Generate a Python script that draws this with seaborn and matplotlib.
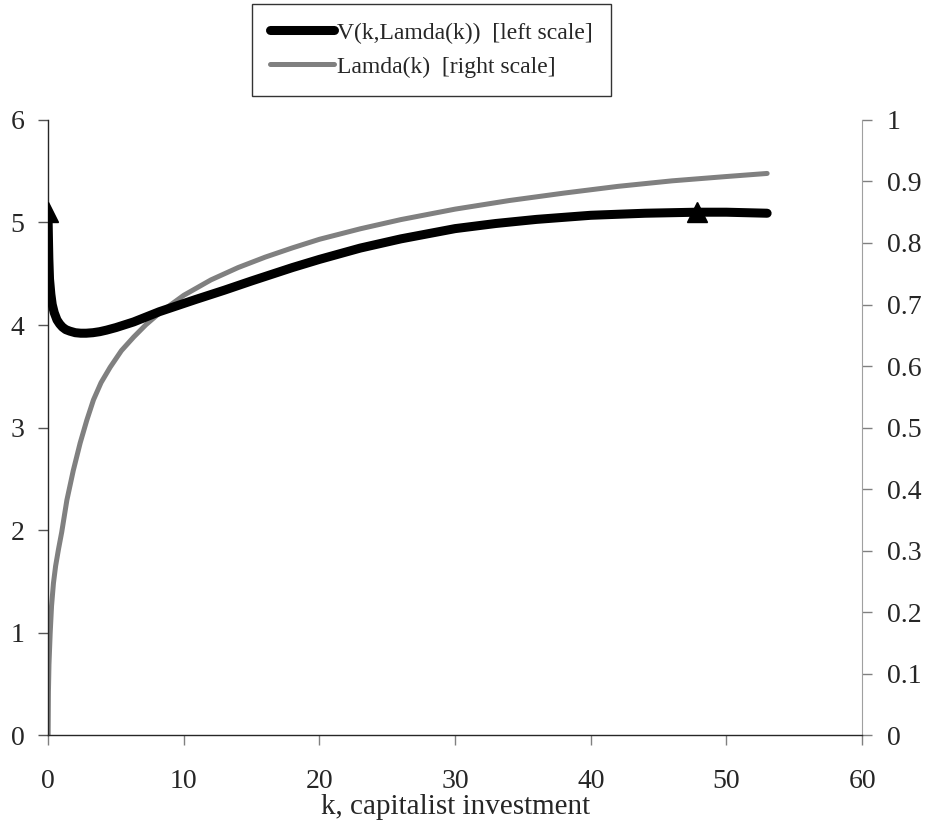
import seaborn as sns
import pandas as pd
import matplotlib.pyplot as plt
from matplotlib.lines import Line2D

# values
k_v = [0, 0.02, 0.05, 0.1, 0.2, 0.3, 0.45, 0.65, 0.85, 1.05, 1.3, 1.6, 2.0, 2.4, 2.8,
       3.3, 3.8, 4.3, 5, 6.3, 8.2, 10.9, 13, 15, 18, 20, 23, 26, 30, 33, 36, 40, 44,
       47.8, 50, 53]
v = [5.0, 4.85, 4.65, 4.45, 4.3, 4.2, 4.12, 4.05, 4.01, 3.98, 3.955, 3.94, 3.925,
     3.92, 3.92, 3.925, 3.935, 3.95, 3.975, 4.03, 4.13, 4.25, 4.34, 4.43, 4.56, 4.64,
     4.75, 4.84, 4.94, 4.99, 5.03, 5.07, 5.09, 5.1, 5.1, 5.09]
k_lam = [0, 0.02, 0.06, 0.15, 0.25, 0.39, 0.55, 0.76, 1.0, 1.38, 1.85, 2.36, 2.85,
         3.34, 3.9, 4.57, 5.4, 6.3, 7.2, 8.25, 10, 12, 14, 16, 18, 20, 23, 26, 30, 34,
         38, 42, 46, 50, 53]
lam = [0, 0.07, 0.115, 0.166, 0.21, 0.247, 0.275, 0.302, 0.33, 0.382, 0.43, 0.475,
       0.512, 0.545, 0.573, 0.598, 0.625, 0.647, 0.667, 0.687, 0.715, 0.74, 0.76,
       0.777, 0.792, 0.806, 0.823, 0.838, 0.855, 0.869, 0.881, 0.892, 0.901, 0.908,
       0.913]
arrow_k = [0, 47.8]
arrow_v = [5.1, 5.1]

dv = pd.DataFrame({"k": k_v, "V": v})
dl = pd.DataFrame({"k": k_lam, "Lamda": lam})

sns.set_style("ticks")
plt.rcParams['font.family'] = ['Liberation Serif', 'DejaVu Serif']
plt.rcParams['font.size'] = 20

fig = plt.figure(figsize=(9.26, 8.27), dpi=100)
ax = fig.add_axes([0.052, 0.111, 0.879, 0.744])
ax2 = ax.twinx()

grey = "#808080"
sns.lineplot(data=dl, x="k", y="Lamda", ax=ax2, color=grey, linewidth=3.6,
             solid_capstyle="round", solid_joinstyle="round")
sns.lineplot(data=dv, x="k", y="V", ax=ax, color="black", linewidth=6.5,
             solid_capstyle="round", solid_joinstyle="round", zorder=3)
ax.plot(arrow_k, arrow_v, linestyle="none", marker="^", markersize=14, color="black", zorder=4)

ax.set_zorder(ax2.get_zorder() + 1)
ax.patch.set_visible(False)

ax.set_xlim(0, 60)
ax.set_ylim(0, 6)
ax2.set_ylim(0, 1)
ax.set_xticks(range(0, 61, 10))
ax.set_yticks(range(0, 7))
ax2.set_yticks([i / 10 for i in range(11)])
ax2.set_yticklabels(["0"] + [f"{i / 10:.1f}" for i in range(1, 10)] + ["1"])

ax.set_xlabel("k, capitalist investment", fontsize=21, labelpad=0)
ax.set_ylabel("")
ax2.set_ylabel("")

for a in (ax, ax2):
    a.spines["top"].set_visible(False)
ax.spines["right"].set_visible(False)
ax2.spines["left"].set_visible(False)
ax2.spines["bottom"].set_visible(False)
ax2.spines["right"].set_color("#a0a0a0")
ax.spines["left"].set_linewidth(1.0)
ax.spines["bottom"].set_linewidth(1.0)
ax.tick_params(axis="y", direction="out", length=7, width=1, color="#555555", pad=10, labelsize=20)
ax.tick_params(axis="x", direction="out", length=7, width=1, color=grey, pad=17, labelsize=20)
ax2.tick_params(axis="y", direction="out", length=7, width=1, color=grey, pad=11, labelsize=20)

handles = [Line2D([], [], color="black", linewidth=6.5, solid_capstyle="round"),
           Line2D([], [], color=grey, linewidth=3.6, solid_capstyle="round")]
labels = ["V(k,Lamda(k))  [left scale]", "Lamda(k)  [right scale]"]
leg = fig.legend(handles, labels, loc="upper left", bbox_to_anchor=(0.272, 0.995),
                 frameon=True, fancybox=False, edgecolor="black", fontsize=17,
                 handlelength=2.7, handletextpad=0.15, borderpad=0.76, labelspacing=0.53,
                 borderaxespad=0)
leg.get_frame().set_linewidth(1.0)

fig.savefig("out.png", dpi=100)
